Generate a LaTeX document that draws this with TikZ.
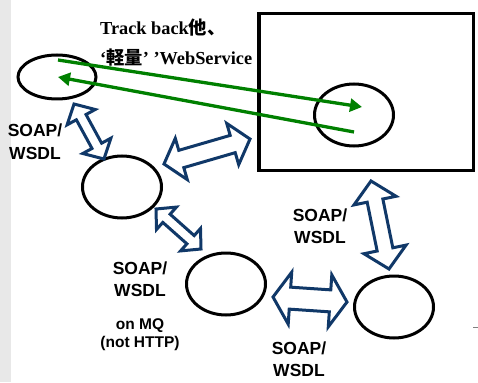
\documentclass[tikz,border=0pt]{standalone}
\usepackage{fontspec}
\setmainfont{Liberation Serif}
\newfontfamily\arialf{Liberation Sans}
\newfontfamily\cjk{Noto Sans CJK JP}
\usetikzlibrary{shapes.geometric,arrows.meta,calc}
\definecolor{navy}{RGB}{16,56,104}
\definecolor{grn}{RGB}{0,128,0}
\definecolor{strip}{RGB}{232,232,232}
\newcommand\dblarr[5]{% A, B, head length, half head width, half shaft width
 \draw[dblarrow] (#1)
 -- ($(#1)!#3!(#2)!#4!90:(#2)$)
 -- ($(#1)!#3!(#2)!#5!90:(#2)$)
 -- ($(#2)!#3!(#1)!#5!-90:(#1)$)
 -- ($(#2)!#3!(#1)!#4!-90:(#1)$)
 -- (#2)
 -- ($(#2)!#3!(#1)!#4!90:(#1)$)
 -- ($(#2)!#3!(#1)!#5!90:(#1)$)
 -- ($(#1)!#3!(#2)!#5!-90:(#2)$)
 -- ($(#1)!#3!(#2)!#4!-90:(#2)$)
 -- cycle;}
\tikzset{
 ell/.style={ellipse, draw=black, line width=3pt, inner sep=0pt, minimum width=79pt, minimum height=62pt},
 dblarrow/.style={draw=navy, fill=white, line width=3pt, line join=miter},
 garrow/.style={draw=grn, line width=3.3pt, -{Triangle[length=12pt,width=13pt]}, fill=grn},
 lbl/.style={font=\arialf\bfseries\fontsize{17.5}{22}\selectfont, align=center, inner sep=0pt},
 small/.style={font=\arialf\bfseries\fontsize{15.5}{18}\selectfont, align=center, inner sep=0pt},
 ttl/.style={font=\bfseries\fontsize{18.3}{20}\selectfont, anchor=base west, inner sep=0pt},
}
\begin{document}
\begin{tikzpicture}[x=1pt,y=-1pt]
\useasboundingbox (0,0) rectangle (478,382);
\fill[white] (0,0) rectangle (478,382);
\fill[strip] (0,0) rectangle (11,382);
\draw[gray, line width=0.8pt] (473,327) -- (478,327);

% server box
\node[draw=black, line width=3.5pt, minimum width=214.5pt, minimum height=156.5pt, inner sep=0pt] (srv) at (366,92) {};

% ellipses
\node[ell, minimum width=78pt, minimum height=44pt] (e1) at (57,77) {};
\node[ell] (e2) at (354,115) {};
\node[ell] (e3) at (122,187) {};
\node[ell] (e4) at (226,284) {};
\node[ell] (e5) at (394,307) {};

% title
\node[ttl] (t1) at (100,35) {Track back{\cjk 他、}};
\node[ttl] (t2) at (100,65) {‘{\cjk 軽量}’ ’WebService};

% green arrows
\coordinate (g1s) at (58,60);
\coordinate (g1e) at (362,107);
\coordinate (g2s) at (354,132);
\coordinate (g2e) at (58,77);
\draw[garrow] (g1s) -- (g1e);
\draw[garrow] (g2s) -- (g2e);

% double arrows
\coordinate (a1s) at (74,104);
\coordinate (a1e) at (104,159);
\coordinate (a2s) at (164,164);
\coordinate (a2e) at (250,139);
\coordinate (a3s) at (156,209);
\coordinate (a3e) at (201,249);
\coordinate (a4s) at (273,297);
\coordinate (a4e) at (347,302);
\coordinate (a5s) at (371,181);
\coordinate (a5e) at (389,269);
\dblarr{a1s}{a1e}{15pt}{16pt}{5.5pt}
\dblarr{a2s}{a2e}{18pt}{21.5pt}{9pt}
\dblarr{a3s}{a3e}{14pt}{15pt}{5.5pt}
\dblarr{a4s}{a4e}{17pt}{26pt}{11pt}
\dblarr{a5s}{a5e}{20pt}{21.5pt}{8pt}

% labels
\node[lbl, font=\arialf\bfseries\fontsize{17.5}{23}\selectfont] (l1) at (35,141.5) {SOAP/\\WSDL};
\node[lbl] (l2) at (320,226) {SOAP/\\WSDL};
\node[lbl] (l3) at (140,279.5) {SOAP/\\WSDL};
\node[small] (l3b) at (140,335) {on MQ\\(not HTTP)};
\node[lbl] (l4) at (299,359) {SOAP/\\WSDL};
\end{tikzpicture}
\end{document}
